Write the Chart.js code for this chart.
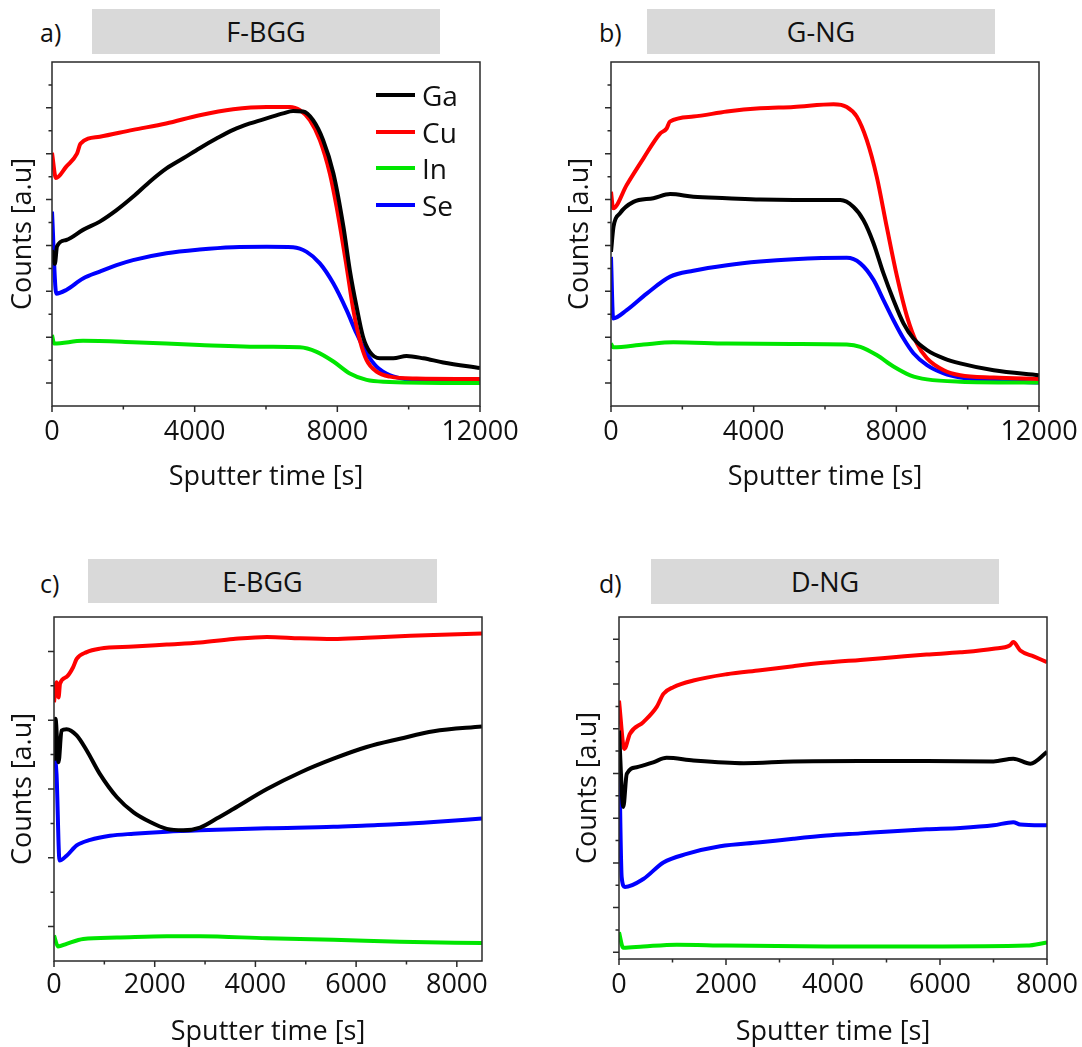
<!DOCTYPE html>
<html><head><meta charset="utf-8">
<script src="https://cdn.jsdelivr.net/npm/chart.js@4"></script>
<style>
body{margin:0;background:#fff;width:1082px;height:1047px;position:relative;overflow:hidden;font-family:"Open Sans",sans-serif;color:#111}
.box{position:absolute;background:#d9d9d9;display:flex;align-items:center;justify-content:center;font-size:27px;line-height:1}
.lab{position:absolute;font-size:25px;line-height:30px}
canvas{position:absolute}
.leg{position:absolute;display:flex;align-items:center;font-size:28px;line-height:36px;height:36px}
.leg span.l{display:inline-block;width:39px;height:4px;margin-right:7px}
</style></head><body>
<script>
// ---------- data ----------
const SERIES = ['Ga', 'Cu', 'In', 'Se'];
const COLORS = ['#000000', '#ff0000', '#00e600', '#0000ff'];
const PANEL_LETTERS = ['a)', 'b)', 'c)', 'd)'];
const PANEL_TITLES = ['F-BGG', 'G-NG', 'E-BGG', 'D-NG'];
const X_TITLE = 'Sputter time [s]';
const Y_TITLE = 'Counts [a.u]';

// a) F-BGG
const A_T_GA = [0,80,140,400,870,1340,1810,2270,2740,3210,3680,4140,4610,5080,5550,6015,6480,6760,7040,7320,7600,7890,8170,8350,8540,8720,8910,9190,9570,9940,10410,10970,12000];
const A_GA   = [2.9,2.6,2.98,3.12,3.34,3.52,3.77,4.06,4.39,4.68,4.90,5.12,5.33,5.52,5.66,5.77,5.88,5.93,5.92,5.73,5.30,4.57,3.41,2.46,1.66,1.01,0.68,0.54,0.54,0.59,0.54,0.45,0.33];
const A_T_CU = [0,110,400,700,800,1340,2270,3200,4140,5080,6015,6670,6950,7230,7510,7790,7980,8260,8450,8630,8820,9100,9480,10220,12000];
const A_CU   = [5.02,4.47,4.72,5.0,5.22,5.37,5.52,5.66,5.84,5.97,6.02,6.02,5.95,5.73,5.30,4.57,3.84,2.54,1.59,0.94,0.50,0.25,0.14,0.10,0.09];
const A_T_IN = [0,60,870,2270,4140,6015,6950,7420,7890,8350,8820,9290,12000];
const A_IN   = [1.05,0.86,0.92,0.89,0.83,0.79,0.78,0.68,0.47,0.21,0.07,0.03,0.0];
const A_T_SE = [0,120,400,870,1340,1810,2270,3210,4140,5080,6015,6760,7140,7510,7890,8260,8540,8820,9100,9480,9940,10690,12000];
const A_SE   = [3.74,1.95,2.03,2.28,2.43,2.57,2.68,2.83,2.91,2.96,2.97,2.96,2.86,2.61,2.17,1.59,1.08,0.65,0.36,0.17,0.08,0.04,0.01];

// b) G-NG
const B_T_GA = [0,70,250,630,1190,1660,2310,3250,4180,5120,6430,6800,7080,7360,7640,7920,8200,8480,8860,9330,9790,10730,12000];
const B_GA   = [2.86,3.41,3.70,3.95,4.03,4.12,4.06,4.03,4.00,3.99,3.99,3.84,3.55,3.05,2.39,1.81,1.30,0.97,0.72,0.54,0.43,0.28,0.17];
const B_T_CU = [0,60,440,910,1375,1560,1650,2310,3250,4180,5120,6240,6610,6890,7170,7450,7730,8020,8300,8580,8860,9330,9790,10730,12000];
const B_CU   = [4.17,3.81,4.32,4.90,5.44,5.55,5.70,5.81,5.92,5.99,6.02,6.08,6.02,5.81,5.30,4.50,3.41,2.32,1.45,0.86,0.54,0.28,0.17,0.12,0.09];
const B_T_IN = [0,60,910,1750,3250,5120,6610,6990,7450,7920,8390,8860,9790,12000];
const B_IN   = [0.86,0.78,0.84,0.89,0.86,0.85,0.84,0.79,0.61,0.36,0.17,0.08,0.03,0.01];
const B_T_SE = [0,60,440,1000,1660,2310,3250,4180,5120,6610,6990,7360,7640,7920,8200,8480,8860,9330,9790,10730,12000];
const B_SE   = [2.75,1.41,1.59,1.95,2.32,2.45,2.57,2.65,2.70,2.73,2.61,2.25,1.81,1.37,0.97,0.65,0.39,0.21,0.12,0.05,0.01];

// c) E-BGG
const C_T_GA = [0,30,90,150,250,450,650,910,1250,1580,1910,2240,2570,2900,3230,3560,4230,4890,5550,6210,6870,7540,8500];
const C_GA   = [2.41,3.02,2.39,2.85,2.87,2.78,2.56,2.22,1.88,1.66,1.52,1.42,1.40,1.44,1.57,1.71,2.00,2.24,2.44,2.61,2.73,2.84,2.91];
const C_T_CU = [0,50,90,120,250,380,450,650,910,1580,2240,2900,3560,4230,4890,5550,6210,6870,7540,8500];
const C_CU   = [3.26,3.55,3.33,3.53,3.63,3.77,3.89,3.99,4.04,4.07,4.10,4.13,4.18,4.21,4.19,4.18,4.20,4.22,4.24,4.26];
const C_T_IN = [0,80,250,580,1250,2240,2900,4230,5550,6870,8500];
const C_IN   = [-0.13,-0.29,-0.25,-0.18,-0.16,-0.14,-0.14,-0.17,-0.19,-0.22,-0.24];
const C_T_SE = [0,50,110,250,450,720,1110,1580,2240,2900,4230,5550,6210,6870,7540,8500];
const C_SE   = [2.58,2.22,0.96,1.03,1.18,1.26,1.32,1.35,1.38,1.40,1.43,1.45,1.47,1.49,1.52,1.57];

// d) D-NG
const D_T_GA = [0,80,145,330,640,890,1390,2330,3260,4510,5750,7000,7370,7690,8000];
const D_GA   = [4.96,3.25,3.99,4.14,4.25,4.35,4.29,4.23,4.27,4.28,4.28,4.27,4.33,4.22,4.48];
const D_T_CU = [0,100,205,455,705,830,1015,1390,2010,2640,3260,3880,4510,5130,5750,6380,7000,7310,7370,7500,7750,8000];
const D_CU   = [5.63,4.55,4.89,5.15,5.49,5.78,5.93,6.08,6.22,6.31,6.40,6.48,6.54,6.60,6.66,6.71,6.79,6.87,6.94,6.75,6.62,6.49];
const D_T_IN = [0,80,455,1080,2010,3880,5750,7620,8000];
const D_IN   = [0.45,0.10,0.13,0.17,0.15,0.13,0.13,0.15,0.22];
const D_T_SE = [0,50,110,455,830,1265,1890,2640,3260,3880,4510,5130,5750,6380,7000,7370,7500,8000];
const D_SE   = [4.74,1.68,1.46,1.64,2.01,2.20,2.37,2.46,2.54,2.61,2.66,2.71,2.75,2.78,2.84,2.91,2.86,2.84];

// tick values
const AB_X_MAJOR = [0,4000,8000,12000];
const AB_X_MINOR = [2000,6000,10000];
const CD_X_MAJOR = [0,2000,4000,6000,8000];
const CD_X_MINOR = [1000,3000,5000,7000];
const AB_Y_MAJOR = [0,1,2,3,4,5,6];
const AB_Y_MINOR = [0.5,1.5,2.5,3.5,4.5,5.5,6.5];
const C_Y_MAJOR = [0,1,2,3,4];
const C_Y_MINOR = [0.5,1.5,2.5,3.5];
const D_Y_MAJOR = [0,1,2,3,4,5,6,7];
const D_Y_MINOR = [0.5,1.5,2.5,3.5,4.5,5.5,6.5];

// ---------- layout ----------
const PANELS = [
  {cv:[0,55,540,450], area:[52,7,480,351], yT:23, xT:422, lab:10, xr:[0,12000], yr:[-0.5,7],
   data:[[A_T_GA,A_GA],[A_T_CU,A_CU],[A_T_IN,A_IN],[A_T_SE,A_SE]], xMaj:AB_X_MAJOR, xMin:AB_X_MINOR, yMaj:AB_Y_MAJOR, yMin:AB_Y_MINOR,
   box:[92,9,348,45], letter:[40,17]},
  {cv:[560,55,580,450], area:[51,7,479,351], yT:20, xT:422, lab:10, xr:[0,12000], yr:[-0.5,7],
   data:[[B_T_GA,B_GA],[B_T_CU,B_CU],[B_T_IN,B_IN],[B_T_SE,B_SE]], xMaj:AB_X_MAJOR, xMin:AB_X_MINOR, yMaj:AB_Y_MAJOR, yMin:AB_Y_MINOR,
   box:[647,9,348,45], letter:[599,17]},
  {cv:[0,610,540,440], area:[54,7,482,351], yT:23, xT:422, lab:8, xr:[0,8500], yr:[-0.5,4.5],
   data:[[C_T_GA,C_GA],[C_T_CU,C_CU],[C_T_IN,C_IN],[C_T_SE,C_SE]], xMaj:CD_X_MAJOR, xMin:CD_X_MINOR, yMaj:C_Y_MAJOR, yMin:C_Y_MINOR,
   box:[88,559,349,44], letter:[40,568]},
  {cv:[560,610,580,440], area:[59,7,487,349], yT:28, xT:422, lab:10, xr:[0,8000], yr:[-0.15,7.5],
   data:[[D_T_GA,D_GA],[D_T_CU,D_CU],[D_T_IN,D_IN],[D_T_SE,D_SE]], xMaj:CD_X_MAJOR, xMin:CD_X_MINOR, yMaj:D_Y_MAJOR, yMin:D_Y_MINOR,
   box:[651,559,348,45], letter:[599,568]}
];

const frameTicks = {
  id: 'frameTicks',
  afterDatasetsDraw(chart, args, o) {
    const {ctx, chartArea: a, scales: {x, y}} = chart;
    ctx.save();
    ctx.strokeStyle = '#2a2a2a';
    ctx.lineWidth = 1.5;
    ctx.beginPath();
    o.xMaj.forEach(v => { const p = x.getPixelForValue(v); ctx.moveTo(p, a.bottom); ctx.lineTo(p, a.bottom + 6); });
    o.xMin.forEach(v => { const p = x.getPixelForValue(v); ctx.moveTo(p, a.bottom); ctx.lineTo(p, a.bottom + 3.5); });
    o.yMaj.forEach(v => { const p = y.getPixelForValue(v); ctx.moveTo(a.left, p); ctx.lineTo(a.left - 6, p); });
    o.yMin.forEach(v => { const p = y.getPixelForValue(v); ctx.moveTo(a.left, p); ctx.lineTo(a.left - 3.5, p); });
    ctx.stroke();
    ctx.strokeRect(a.left, a.top, a.right - a.left, a.bottom - a.top);
    ctx.restore();
  }
};

Chart.defaults.font.family = "'Open Sans', sans-serif";
Chart.defaults.color = '#111';

PANELS.forEach((P, idx) => {
  const [cl, ct, cw, ch] = P.cv;
  const [al, at, ar, ab] = P.area;
  const cv = document.createElement('canvas');
  cv.width = cw; cv.height = ch;
  cv.style.left = cl + 'px'; cv.style.top = ct + 'px';
  cv.style.width = cw + 'px'; cv.style.height = ch + 'px';
  document.body.appendChild(cv);

  const box = document.createElement('div');
  box.className = 'box';
  box.style.left = P.box[0] + 'px'; box.style.top = P.box[1] + 'px';
  box.style.width = P.box[2] + 'px'; box.style.height = P.box[3] + 'px';
  box.textContent = PANEL_TITLES[idx];
  document.body.appendChild(box);

  const lab = document.createElement('div');
  lab.className = 'lab';
  lab.style.left = P.letter[0] + 'px'; lab.style.top = P.letter[1] + 'px';
  lab.textContent = PANEL_LETTERS[idx];
  document.body.appendChild(lab);

  const yTitleLH = 27 * 1.2;
  new Chart(cv, {
    type: 'line',
    data: {
      datasets: SERIES.map((name, i) => ({
        label: name,
        data: P.data[i][0].map((t, k) => ({x: t, y: P.data[i][1][k]})),
        borderColor: COLORS[i],
        backgroundColor: COLORS[i],
        borderWidth: 4,
        pointRadius: 0,
        cubicInterpolationMode: 'monotone',
        fill: false
      }))
    },
    options: {
      responsive: false,
      animation: false,
      devicePixelRatio: 1,
      layout: {padding: {left: 0, top: at, right: cw - ar, bottom: 0}},
      plugins: {
        legend: {display: false},
        tooltip: {enabled: false},
        frameTicks: {xMaj: P.xMaj, xMin: P.xMin, yMaj: P.yMaj, yMin: P.yMin}
      },
      scales: {
        x: {
          type: 'linear', min: P.xr[0], max: P.xr[1],
          grid: {display: false, drawTicks: false},
          border: {display: false},
          afterBuildTicks: s => { s.ticks = P.xMaj.map(v => ({value: v})); },
          ticks: {autoSkip: false, maxRotation: 0, padding: P.lab, font: {size: 27}, color: '#111',
                  callback: v => String(v)},
          title: {display: true, text: X_TITLE, font: {size: 27}, color: '#111',
                  padding: {top: 0, bottom: Math.max(0, ch - P.xT - yTitleLH / 2)}},
          afterFit: s => { s.height = ch - ab; }
        },
        y: {
          type: 'linear', min: P.yr[0], max: P.yr[1],
          grid: {display: false, drawTicks: false},
          border: {display: false},
          ticks: {display: false},
          title: {display: true, text: Y_TITLE, font: {size: 27}, color: '#111',
                  padding: {top: P.yT - yTitleLH / 2, bottom: 0}},
          afterFit: s => { s.width = al; }
        }
      }
    },
    plugins: [frameTicks]
  });
});

// legend (panel a)
const LEG_X = 376, LEG_Y = [95, 132, 168, 205];
SERIES.forEach((name, i) => {
  const d = document.createElement('div');
  d.className = 'leg';
  d.style.left = LEG_X + 'px';
  d.style.top = (LEG_Y[i] - 18) + 'px';
  const l = document.createElement('span');
  l.className = 'l'; l.style.background = COLORS[i];
  const t = document.createElement('span');
  t.textContent = name;
  d.appendChild(l); d.appendChild(t);
  document.body.appendChild(d);
});
</script>
</body></html>
